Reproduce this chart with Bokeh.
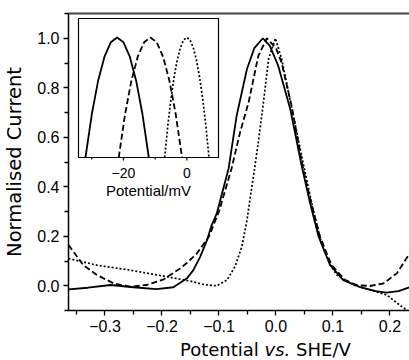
from bokeh.plotting import figure
from bokeh.models import Range1d, FixedTicker, LinearAxis, CustomJSTickFormatter, Div
from bokeh.layouts import column
from bokeh.embed import file_html
from bokeh.resources import INLINE
from bokeh.core.properties import value

# ---------------- main chart data (Potential / V, normalised current) -------------
solid_x = [-0.364, -0.33, -0.29, -0.25, -0.21, -0.18, -0.156, -0.145, -0.133, -0.121, -0.113,
           -0.104, -0.083, -0.069, -0.051, -0.038, -0.023, -0.011, 0.004, 0.025, 0.045, 0.06,
           0.075, 0.095, 0.118, 0.148, 0.175, 0.194, 0.215, 0.24]
solid_y = [-0.015, -0.008, 0.003, -0.006, -0.014, -0.006, 0.03, 0.063, 0.117, 0.184, 0.244,
           0.291, 0.475, 0.687, 0.875, 0.96, 1.0, 0.97, 0.888, 0.714, 0.486, 0.332,
           0.197, 0.083, 0.023, -0.006, -0.022, -0.028, -0.022, -0.002]

dashed_x = [-0.364, -0.358, -0.338, -0.314, -0.285, -0.256, -0.227, -0.197, -0.168, -0.154,
            -0.139, -0.118, -0.1, -0.078, -0.063, -0.048, -0.031, -0.016, 0.0, 0.01, 0.028,
            0.047, 0.062, 0.077, 0.097, 0.12, 0.142, 0.165, 0.189, 0.212, 0.24]
dashed_y = [0.165, 0.146, 0.083, 0.043, 0.01, -0.004, 0.003, 0.026, 0.07, 0.097,
            0.13, 0.197, 0.3, 0.473, 0.62, 0.741, 0.929, 1.0, 0.96, 0.9, 0.72,
            0.48, 0.33, 0.2, 0.085, 0.025, 0.003, -0.001, 0.01, 0.05, 0.15]

dotted_x = [-0.364, -0.314, -0.256, -0.197, -0.151, -0.127, -0.104, -0.086, -0.072, -0.06,
            -0.051, -0.045, -0.038, -0.031, -0.022, -0.013, -0.001, 0.01, 0.028, 0.05,
            0.065, 0.08, 0.095, 0.107, 0.136, 0.165, 0.194, 0.221, 0.24]
dotted_y = [0.11, 0.083, 0.063, 0.039, 0.019, 0.005, 0.0, 0.023, 0.077, 0.157,
            0.264, 0.358, 0.466, 0.58, 0.741, 0.916, 1.0, 0.916, 0.714, 0.47,
            0.31, 0.17, 0.085, 0.043, 0.003, -0.017, -0.037, -0.085, -0.115]

x_ticks = [-0.3, -0.2, -0.1, 0.0, 0.1, 0.2]
x_minor = [-0.35, -0.25, -0.15, -0.05, 0.05, 0.15, 0.25]
y_ticks = [0.0, 0.2, 0.4, 0.6, 0.8, 1.0]
y_minor = [-0.1, 0.1, 0.3, 0.5, 0.7, 0.9, 1.1]

# ---------------- inset data (Potential / mV), visible part of the peaks -------------
in_solid_x = [-32, -30, -28, -26, -24, -22, -20, -18, -16, -14, -12]
in_solid_y = [0.5, 0.68, 0.82, 0.92, 0.98, 1.0, 0.98, 0.92, 0.82, 0.68, 0.5]
in_dashed_x = [-21.5, -19.5, -17.5, -15.5, -13.5, -11.5, -9.5, -7.5, -5.5, -3.5, -1.5]
in_dashed_y = [0.5, 0.68, 0.82, 0.92, 0.98, 1.0, 0.98, 0.92, 0.82, 0.68, 0.5]
in_dotted_x = [-7, -6, -5, -4, -3, -2, -1, 0, 1, 2, 3, 4, 5, 6, 7]
in_dotted_y = [0.5, 0.633, 0.745, 0.837, 0.908, 0.959, 0.99, 1.0, 0.99, 0.959, 0.908, 0.837, 0.745, 0.633, 0.5]
in_ticks = [-20, 0]
in_tick_labels = ["\u221220", "0"]
in_minor = [-30, -10]
in_xlim = (-34.2, 10.0)
in_ylim = (0.5, 1.079)

FONT = "Liberation Sans"
TFONT = "DejaVu Sans"

X0, X1 = -0.364, 0.2395
Y0, Y1 = -0.1, 1.1
FW, FH = 344, 297
L, T = 65, 13

p = figure(frame_width=FW, frame_height=FH, x_range=Range1d(X0, X1), y_range=Range1d(Y0, Y1),
           output_backend="svg", toolbar_location=None,
           min_border_left=L, min_border_right=0, min_border_top=T, min_border_bottom=29)
p.outline_line_color = None
p.grid.visible = False
p.background_fill_color = "white"
p.border_fill_color = "white"

fmt = CustomJSTickFormatter(code="return (tick < -1e-9 ? '\u2212' : '') + Math.abs(tick).toFixed(1);")

for ax, tk, mn in ((p.xaxis[0], x_ticks, x_minor), (p.yaxis[0], y_ticks, y_minor)):
    ax.ticker = FixedTicker(ticks=tk, minor_ticks=mn)
    ax.formatter = fmt
    ax.axis_line_color = "black"
    ax.axis_line_width = 1.5
    ax.major_tick_line_color = "black"
    ax.minor_tick_line_color = "black"
    ax.major_tick_line_width = 1.3
    ax.minor_tick_line_width = 1.3
    ax.major_tick_in = 0
    ax.minor_tick_in = 0
    ax.major_tick_out = 5
    ax.minor_tick_out = 4
    ax.major_label_text_font = FONT
    ax.major_label_text_font_size = "16px"
    ax.major_label_text_color = "black"
    ax.major_label_standoff = 4

p.yaxis.axis_label = "Normalised Current"
p.yaxis.axis_label_text_font = TFONT
p.yaxis.axis_label_text_font_size = "19.5px"
p.yaxis.axis_label_text_font_style = "normal"
p.yaxis.axis_label_text_color = "black"
p.yaxis.axis_label_standoff = 8

top_ax = LinearAxis(ticker=FixedTicker(ticks=[]), axis_line_color="#444444", axis_line_width=2,
                    major_tick_line_color=None, minor_tick_line_color=None,
                    major_tick_out=0, minor_tick_out=0, major_label_standoff=0)
p.add_layout(top_ax, "above")

p.line(solid_x, solid_y, line_color="black", line_width=1.8)
p.line(dashed_x, dashed_y, line_color="black", line_width=1.8, line_dash="6 3")
p.line(dotted_x, dotted_y, line_color="black", line_width=1.7, line_dash="2 2")

# ---------------- inset, drawn in its own ranges inside the main frame -------------
box_l, box_r, box_t, box_b = 75, 215, 18, 157          # inset box in screen pixels
mv_pp = (in_xlim[1] - in_xlim[0]) / (box_r - box_l)
iy_pp = (in_ylim[1] - in_ylim[0]) / (box_b - box_t)
p.extra_x_ranges = {"ix": Range1d(in_xlim[0] - (box_l - L) * mv_pp,
                                  in_xlim[1] + (L + FW - box_r) * mv_pp)}
p.extra_y_ranges = {"iy": Range1d(in_ylim[0] - (T + FH - box_b) * iy_pp,
                                  in_ylim[1] + (box_t - T) * iy_pp)}
kw = dict(x_range_name="ix", y_range_name="iy")

p.quad(left=[in_xlim[0]], right=[in_xlim[1]], bottom=[in_ylim[0]], top=[in_ylim[1]],
       fill_color="white", line_color="black", line_width=1.2, **kw)
p.line(in_solid_x, in_solid_y, line_color="black", line_width=1.8, **kw)
p.line(in_dashed_x, in_dashed_y, line_color="black", line_width=1.8, line_dash="6 3", **kw)
p.line(in_dotted_x, in_dotted_y, line_color="black", line_width=1.7, line_dash="2 2", **kw)
p.segment(x0=in_ticks, x1=in_ticks, y0=[in_ylim[0]] * len(in_ticks),
          y1=[in_ylim[0] - 3 * iy_pp] * len(in_ticks), line_color="black", line_width=1.2, **kw)
p.segment(x0=in_minor, x1=in_minor, y0=[in_ylim[0]] * len(in_minor),
          y1=[in_ylim[0] - 2 * iy_pp] * len(in_minor), line_color="black", line_width=1.2, **kw)
p.text(x=in_ticks, y=[in_ylim[0] - 15 * iy_pp] * len(in_ticks), text=in_tick_labels,
       text_align="center", text_baseline="alphabetic", text_font=value(FONT),
       text_font_size="14px", text_color="black", **kw)
p.text(x=[(in_xlim[0] + in_xlim[1]) / 2], y=[in_ylim[0] - 33 * iy_pp], text=["Potential/mV"],
       text_align="center", text_baseline="alphabetic", text_font=value(FONT),
       text_font_size="15px", text_color="black", **kw)

# ---------------- x-axis title with italic "vs." -------------
xtitle = Div(text="<div style=\"padding-left:180px; white-space:nowrap; font-family:'DejaVu Sans'; "
                  "font-size:18px; line-height:21px; color:black;\">Potential <i>vs.</i> SHE/V</div>",
             width=409, height=21, margin=(0, 0, 0, 0))

root = column(p, xtitle, spacing=0)
open("out.html", "w").write(file_html(root, INLINE))
